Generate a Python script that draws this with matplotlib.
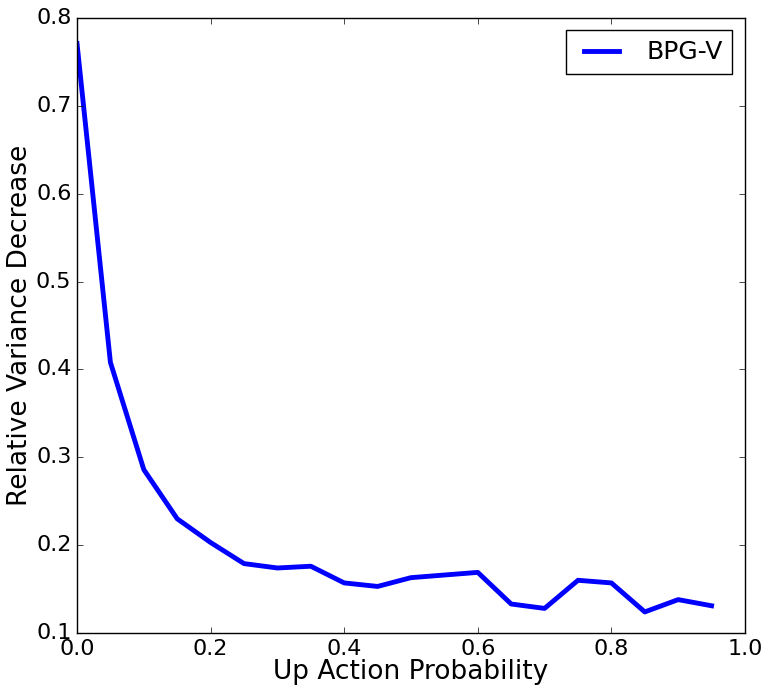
import matplotlib
matplotlib.use("Agg")
import matplotlib.pyplot as plt

plt.style.use("classic")

# data
up_prob = [0.0, 0.05, 0.1, 0.15, 0.2, 0.25, 0.3, 0.35, 0.4, 0.45,
           0.5, 0.55, 0.6, 0.65, 0.7, 0.75, 0.8, 0.85, 0.9, 0.95]
var_decrease = [0.771, 0.408, 0.286, 0.230, 0.203, 0.179, 0.174, 0.176, 0.157, 0.153,
                0.163, 0.166, 0.169, 0.133, 0.128, 0.160, 0.157, 0.124, 0.138, 0.131]

fig = plt.figure(figsize=(7.64, 6.87), dpi=100, facecolor="white")
ax = fig.add_axes([0.1008, 0.0786, 0.8743, 0.8952])

ax.plot(up_prob, var_decrease, color="blue", linewidth=3.5, label="BPG-V")

ax.set_xlim(0.0, 1.0)
ax.set_ylim(0.1, 0.8)
ax.set_xticks([0.0, 0.2, 0.4, 0.6, 0.8, 1.0])
ax.set_yticks([0.1, 0.2, 0.3, 0.4, 0.5, 0.6, 0.7, 0.8])
ax.tick_params(labelsize=16)
ax.set_xlabel("Up Action Probability", fontsize=19, labelpad=0)
ax.set_ylabel("Relative Variance Decrease", fontsize=19, labelpad=2)

ax.legend(loc="upper right", fontsize=18, handlelength=2.0)

fig.savefig("out.png", dpi=100, facecolor="white")
